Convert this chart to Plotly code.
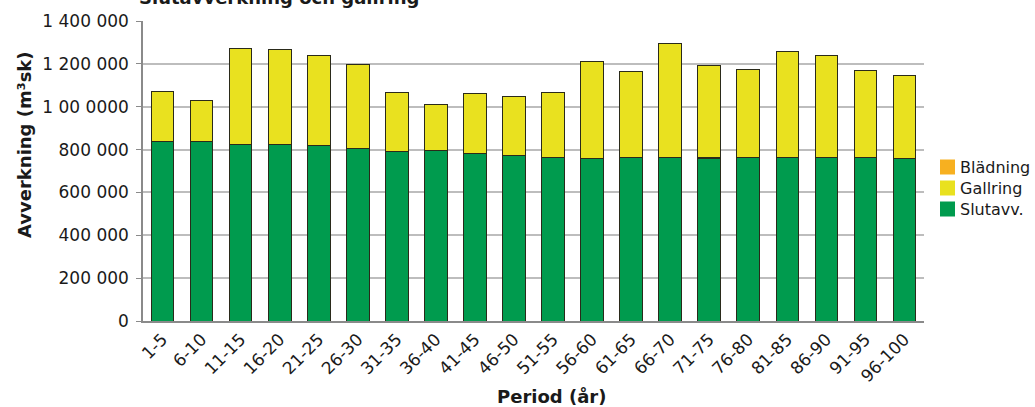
import plotly.graph_objects as go

# Avverkning per femårsperiod (m³sk)
periods = ["1-5", "6-10", "11-15", "16-20", "21-25", "26-30", "31-35", "36-40",
           "41-45", "46-50", "51-55", "56-60", "61-65", "66-70", "71-75", "76-80",
           "81-85", "86-90", "91-95", "96-100"]
total = [1070000, 1028000, 1274000, 1268000, 1237000, 1195000, 1067000, 1011000,
         1063000, 1049000, 1067000, 1212000, 1164000, 1296000, 1192000, 1176000,
         1260000, 1240000, 1167000, 1147000]
slutavv = [837000, 837000, 826000, 826000, 817000, 806000, 792000, 796000,
           784000, 773000, 764000, 759000, 764000, 764000, 759000, 764000,
           764000, 764000, 764000, 760000]
bladning = [None] * 14 + [4000] + [None] * 5
gallring = [t - s - (b or 0) for t, s, b in zip(total, slutavv, bladning)]

ytick_vals = [0, 200000, 400000, 600000, 800000, 1000000, 1200000, 1400000]
ytick_text = ["0", "200 000", "400 000", "600 000", "800 000", "1 00 0000",
              "1 200 000", "1 400 000"]

GREEN = "#009B4E"
YELLOW = "#E9E11F"
ORANGE = "#F7B020"
EDGE = dict(color="#2a2a1a", width=1)
FONT = "DejaVu Sans"

# plot area in pixels
L, R, T, B = 143, 924, 21, 321
W, H = 1035, 407

def px_x(x):
    return (x - L) / (R - L)

def px_y(y):
    return (B - y) / (B - T)

# stacked bottom-up: Slutavv., Blädning, Gallring
series = [("Slutavv.", slutavv, GREEN),
          ("Blädning", bladning, ORANGE),
          ("Gallring", gallring, YELLOW)]
legend_order = ["Blädning", "Gallring", "Slutavv."]

fig = go.Figure()
for name, vals, col in series:
    fig.add_trace(go.Bar(name=name, x=periods, y=vals, showlegend=False,
                         marker=dict(color=col, line=EDGE)))

# legend drawn beside the plot area
shapes, annotations = [], []
colors = {n: c for n, _, c in series}
for i, name in enumerate(legend_order):
    cy = 167 + 21 * i
    shapes.append(dict(type="rect", xref="paper", yref="paper",
                       x0=px_x(940), x1=px_x(955), y0=px_y(cy + 7.5), y1=px_y(cy - 7.5),
                       fillcolor=colors[name], line=dict(width=0)))
    annotations.append(dict(text=name, xref="paper", yref="paper",
                            x=px_x(958), y=px_y(cy), xanchor="left", yanchor="middle",
                            showarrow=False, font=dict(size=16, family=FONT)))

annotations += [
    dict(text="<b>Slutavverkning och gallring</b>", xref="paper", yref="paper",
         x=px_x(279), y=1 + 11 / 300, xanchor="center", yanchor="bottom",
         showarrow=False, font=dict(size=18, family=FONT)),
    dict(text="<b>Avverkning (m³sk)</b>", xref="paper", yref="paper",
         x=px_x(24), y=px_y(145), xanchor="center", yanchor="middle",
         textangle=-90, showarrow=False, font=dict(size=18, family=FONT)),
    dict(text="<b>Period (år)</b>", xref="paper", yref="paper",
         x=px_x(551), y=px_y(396), xanchor="center", yanchor="middle",
         showarrow=False, font=dict(size=18, family=FONT)),
]

fig.update_layout(
    barmode="stack",
    bargap=0.42,
    width=W, height=H,
    margin=dict(l=L, r=W - R, t=T, b=H - B),
    paper_bgcolor="white", plot_bgcolor="white",
    font=dict(family=FONT, color="#1a1a1a", size=16),
    showlegend=False,
    xaxis=dict(tickangle=-45, tickfont=dict(size=17, family=FONT),
               showline=True, linecolor="#8a8a8a", linewidth=1.5,
               showgrid=False, ticks="", automargin=False),
    yaxis=dict(range=[0, 1400000], tickvals=ytick_vals, ticktext=ytick_text,
               tickfont=dict(size=17, family=FONT),
               showgrid=True, gridcolor="#bdbdbd", gridwidth=1.5,
               showline=True, linecolor="#8a8a8a", linewidth=1.5,
               ticks="outside", ticklen=5, tickcolor="#8a8a8a",
               ticklabelstandoff=4, zeroline=False, automargin=False),
    shapes=shapes,
    annotations=annotations,
)

fig.write_html("out.html")
